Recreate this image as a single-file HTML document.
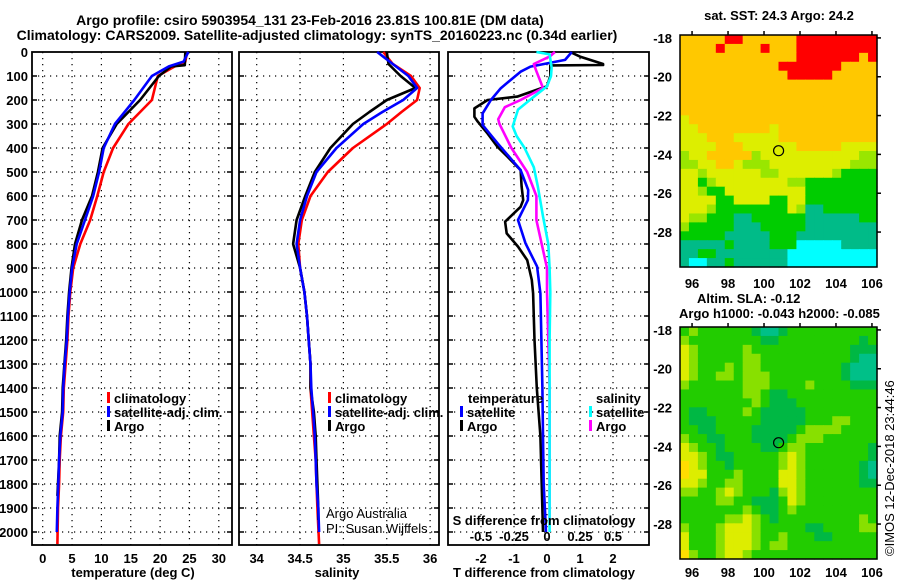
<!DOCTYPE html>
<html><head><meta charset="utf-8">
<style>
html,body{margin:0;padding:0;background:#fff;}
svg{display:block;font-family:"Liberation Sans",sans-serif;}
.t{font-weight:bold;font-size:13px;fill:#000;}
.tt{font-weight:bold;font-size:14px;fill:#000;}
.s{font-size:13px;fill:#000;}
</style></head>
<body>
<svg id="c" width="900" height="580" viewBox="0 0 900 580"></svg>
<script>
// ---- data ----
const depthGrid=[0,100,200,300,400,500,600,700,800,900,1000,1100,1200,1300,1400,1500,1600,1700,1800,1900,2000];
const tTicks=[0,5,10,15,20,25,30];
const sTicks=[34,34.5,35,35.5,36];
const dTTicks=[-2,-1,0,1,2];
const dSTicks=[-0.5,-0.25,0,0.25,0.5];
const sTickLabels=["-0.5","-0.25","0","0.25","0.5"];
// temperature profiles [depth, value]
const tempClimD=[0,40,60,100,200,300,400,500,600,700,800,900,1000,1100,1200,1300,1400,1500,1600,1700,1800,1900,2050];
const tempClimV=[24.6,24.3,22.5,19.6,18.6,14.6,12.0,10.4,9.3,8.1,6.4,5.2,4.7,4.4,4.2,3.9,3.6,3.5,3.1,2.9,2.8,2.6,2.5];
const tempSatD=[0,40,60,100,200,300,400,500,600,700,800,900,1000,1100,1200,1300,1400,1500,1600,1700,1800,1900,2000];
const tempSatV=[24.8,24.0,21.5,18.6,15.6,12.3,10.4,9.6,8.6,7.2,5.8,5.0,4.6,4.3,4.1,3.75,3.5,3.4,3.0,2.8,2.65,2.5,2.4];
const tempArgoD=[0,55,60,100,150,200,300,400,500,600,700,800,900,1000,1100,1200,1300,1400,1500,1600,1700,1800,1850];
const tempArgoV=[24.3,24.2,21.9,19.8,18.2,16.6,12.6,10.2,9.4,8.4,6.7,5.5,4.9,4.5,4.2,4.0,3.7,3.4,3.3,2.9,2.8,2.6,2.5];
// salinity profiles
const salClimD=[0,50,100,150,200,250,300,400,500,600,700,800,900,1000,1100,1200,1300,1400,1500,1600,1700,1800,1900,2050];
const salClimV=[35.46,35.57,35.78,35.88,35.85,35.67,35.5,35.11,34.82,34.62,34.52,34.48,34.5,34.55,34.58,34.6,34.62,34.62,34.64,34.66,34.68,34.69,34.7,34.72];
const salSatD=[0,50,100,150,200,250,300,400,500,600,700,800,900,1000,1100,1200,1300,1400,1500,1600,1700,1800,1900,2000];
const salSatV=[35.39,35.57,35.75,35.85,35.69,35.45,35.23,34.92,34.69,34.58,34.5,34.46,34.5,34.55,34.58,34.6,34.62,34.63,34.65,34.67,34.68,34.69,34.71,34.72];
const salArgoD=[0,50,100,150,200,250,300,400,500,600,700,800,900,1000,1100,1200,1300,1400,1500,1600,1700,1800,1900,1950];
const salArgoV=[35.5,35.52,35.66,35.83,35.5,35.3,35.11,34.85,34.67,34.56,34.46,34.42,34.5,34.55,34.58,34.6,34.62,34.62,34.66,34.68,34.69,34.7,34.71,34.71];
// difference profiles
const dTArgoD=[0,19,50,54,56,100,143,152,186,200,235,270,290,340,395,436,492,560,617,645,707,756,811,867,950,1006,1200,1400,1600,1800,2000];
const dTArgoV=[0.7,1.0,1.7,1.7,0.1,0.1,0.0,-0.2,-0.9,-1.8,-2.2,-2.2,-2.1,-1.8,-1.5,-1.2,-0.8,-0.77,-0.72,-0.8,-1.27,-1.22,-0.88,-0.6,-0.46,-0.42,-0.38,-0.31,-0.2,-0.16,-0.12];
const dTSatD=[0,33,61,82,151,200,256,304,380,492,575,617,700,797,894,1006,1200,1400,1600,1800,2000];
const dTSatV=[0.75,0.55,-0.5,-0.8,-1.4,-1.7,-1.95,-1.95,-1.5,-0.8,-0.57,-0.58,-0.88,-0.65,-0.3,-0.2,-0.17,-0.14,-0.12,-0.1,-0.03];
const dSArgoD=[0,19,50,80,150,200,230,280,300,400,500,600,700,800,900,1000,1200,1400,1600,1800,1950];
const dSArgoV=[0.06,0.02,-0.1,-0.08,-0.03,-0.2,-0.32,-0.37,-0.36,-0.27,-0.15,-0.08,-0.08,-0.04,0.0,0.0,0.01,0.02,0.02,0.02,0.02];
const dSSatD=[0,10,65,100,143,200,240,310,350,400,480,560,685,800,900,1000,1200,1400,1600,1800,2000];
const dSSatV=[-0.08,0.02,0.035,0.03,0.0,-0.13,-0.22,-0.26,-0.23,-0.17,-0.1,-0.07,-0.03,0.01,0.02,0.025,0.02,0.02,0.02,0.02,0.02];
// maps
const mapLatTicks=[-18,-20,-22,-24,-26,-28];
const mapLonTicks=[96,98,100,102,104,106];
const sstGrid=[
"OOOOORROOOOOORRRRRRRRR","OOOOROOOOROOORRRRRRRRR","OOOOOOOOOOOOORRRRRRROR","OOOOOOOOOOORRRRRRROOOO",
"OOOOOOOOOOOORRRRROOOOO","OOOOOOOOOOOOOOOOOOOOOO","OOOOOOOOOOOOOOOOOOOOOO","OOOOOOOOOOOOOOOOOOOOOO",
"OOOOOOOOOOOOOOOOOOOOOO","YOOOOOOOOOOOOOOOOOOOOO","YYOOOOOOOOYOOOOOOOOOOO","YYYOOOYYYYYOOOOOOOOOOO",
"YYYYOOOYYYYYYOOOOOYYYY","LYYOOOOOLYYYYYYYYYYYLL","LLYYOOYLLLYYYYYYYYYLLL","YYLYYYYYYLLYYYYYYLGGGG",
"YYGLYYYYYYYYLLGGGGGGGG","YYLGGYYYYYYYYYGGGGGGGG","YYYYGGYYYYGGYYGGGGGGGG","YYYLGGGGGGGGYLTTGGGGGG",
"YLLGGGTTGGGGGGTTTTTTGG","LGGGGGTTTGGGGGTTTTTTTT","GGGGGTTTTTGGGTTTTTTTTT","TTTTTGTTTTGGGCCCCCTTTT",
"TTGGTTTTTTTTCCCCCCCCCC","TCCTTGTTTTTTCCCCCCCCCC"];
const slaGrid=[
"GLGGGGGGDEEDGGGGGGGGGG","LGGGGGGGGDDGGGGGGGGGDG","YLGGGGGLGGGGGGGGGGGDDD","YLGGGGGLLGGGGGGGGGGDEE",
"YLGGGLGLLGGGGGGGGGDEEE","YLGGLLGLLLGGGGGGGGDEEE","LGGGGGGLLLGGGGLGGGGDDD","GGGGGGGLLGDDGGGGGGGGGG",
"GGGGGGGGLGDDDGGGGGGGGG","GDDGGGGLGDDDDDGGGGGGGG","GDDDGGGGGDDDDDGGGLLGGG","GGDDGGGGDDDDDGLLLLGGGG",
"LGGDDGGGDDDDGLLLGGGGGG","YLGGDGGGGDDGLLGGGGGGGD","YYLGDDGGGGGLYLGGGGGGGD","OYLGGDGGGGGLYLGGGGGGDE",
"OYYGGGLGGGGYYLGGGGGGDE","YYLGGLLGGGGYYLGGGGGGDD","LLGGLYLGGGDLYLGGGGGGGG","GGGGLLGGDDDGYLGGGGGGGG",
"GGGGGGGLGDDGLGGGGGGGGG","GGGGGLLYLGDGGGGGGGGGLG","LGGGLYYYLGGGGGDDGGGGLL","YGGGLYYYLGGLGGGDDGGGGG",
"YGGGLYYYLGLLGGGGGGGGGG","OLGGLYYLGGGGGGGGGGGGGG"];
const argoLon=100.81, argoLat=-23.81;

// ---- scales ----
const NS="http://www.w3.org/2000/svg";
const svg=document.getElementById('c');
const yD=d=>52+d*0.24;
const xT=t=>42.7+t*5.87;
const xS=s=>256.7+(s-34)*86.7;
const xdT=v=>547+v*33;
const xdS=v=>547+v*132;
const TOP=52,BOT=545;
function el(tag,attrs,parent){const e=document.createElementNS(NS,tag);for(const k in attrs)e.setAttribute(k,attrs[k]);(parent||svg).appendChild(e);return e;}
function txt(x,y,s,cls,anchor,name){const e=el('text',{x:x,y:y,class:cls,'text-anchor':anchor||'start'});e.textContent=s;


return e;}

function panel(x0,x1,xs,name){
  const g=el('g',{});
  
  
  depthGrid.forEach(d=>{if(d>0){const l=el('line',{x1:x0,x2:x1,y1:yD(d),y2:yD(d),stroke:'#000','stroke-width':1.2,'stroke-dasharray':'1.2,4.8'},g);
    
    
    el('line',{x1:x0,x2:x0+5,y1:yD(d),y2:yD(d),stroke:'#000','stroke-width':1.5},g);
    el('line',{x1:x1-5,x2:x1,y1:yD(d),y2:yD(d),stroke:'#000','stroke-width':1.5},g);}});
  xs.forEach(x=>{const l=el('line',{x1:x,x2:x,y1:TOP,y2:BOT,stroke:'#000','stroke-width':1.2,'stroke-dasharray':'1.2,4.8'},g);
    
    });
  const r=el('rect',{x:x0,y:TOP,width:x1-x0,height:BOT-TOP,fill:'none',stroke:'#000','stroke-width':1.8},g);
  
  
  return g;
}
function line(D,V,xf,color,name,w){
  const pts=D.map((d,i)=>xf(V[i]).toFixed(1)+','+yD(d).toFixed(1)).join(' ');
  const p=el('polyline',{points:pts,fill:'none',stroke:color,'stroke-width':w||2.6,'stroke-linejoin':'round'});
  
  
}
function legendBar(x,y,color,name){const r=el('rect',{x:x,y:y-10,width:3,height:11,fill:color});
  
  }

// titles
txt(310,25,'Argo profile: csiro 5903954_131 23-Feb-2016 23.81S 100.81E (DM data)','tt','middle','title-line-1');
txt(317,40,'Climatology: CARS2009. Satellite-adjusted climatology: synTS_20160223.nc (0.34d earlier)','tt','middle','title-line-2');

// depth labels
depthGrid.forEach(d=>txt(28,yD(d)+5,String(d),'t','end','depth-tick-label'));

// panel 1 temperature
panel(32,232,tTicks.map(xT),'temperature-panel');
line(tempClimD,tempClimV,xT,'#ff0000','temp-climatology-line');
line(tempArgoD,tempArgoV,xT,'#000000','temp-argo-line');
line(tempSatD,tempSatV,xT,'#0000ff','temp-satellite-line');
tTicks.forEach(t=>txt(xT(t),563,String(t),'t','middle','temp-tick-label'));
txt(133,577,'temperature (deg C)','t','middle','temp-axis-title');
legendBar(107,402,'#ff0000','legend-climatology-swatch');txt(114,403,'climatology','t','start','legend-climatology');
legendBar(107,416,'#0000ff','legend-satellite-swatch');txt(114,417,'satellite-adj. clim.','t','start','legend-satellite');
legendBar(107,430,'#000000','legend-argo-swatch');txt(114,431,'Argo','t','start','legend-argo');

// panel 2 salinity
panel(239,439,sTicks.map(xS),'salinity-panel');
line(salClimD,salClimV,xS,'#ff0000','sal-climatology-line');
line(salArgoD,salArgoV,xS,'#000000','sal-argo-line');
line(salSatD,salSatV,xS,'#0000ff','sal-satellite-line');
sTicks.forEach(s=>txt(xS(s),563,String(s),'t','middle','sal-tick-label'));
txt(337,577,'salinity','t','middle','sal-axis-title');
legendBar(328,402,'#ff0000','legend2-climatology-swatch');txt(335,403,'climatology','t','start','legend2-climatology');
legendBar(328,416,'#0000ff','legend2-satellite-swatch');txt(335,417,'satellite-adj. clim.','t','start','legend2-satellite');
legendBar(328,430,'#000000','legend2-argo-swatch');txt(335,431,'Argo','t','start','legend2-argo');
txt(326,518,'Argo Australia','s','start','credit-argo-australia');
txt(326,533,'PI: Susan Wijffels','s','start','credit-pi');

// panel 3 differences
panel(448,649,dTTicks.map(xdT),'difference-panel');
line(dTArgoD,dTArgoV,xdT,'#000000','dT-argo-line');
line(dTSatD,dTSatV,xdT,'#0000ff','dT-satellite-line');
line(dSArgoD,dSArgoV,xdS,'#ff00ff','dS-argo-line');
line(dSSatD,dSSatV,xdS,'#00ffff','dS-satellite-line');
dTTicks.forEach(v=>txt(xdT(v),563,String(v),'t','middle','dT-tick-label'));
dSTicks.forEach((v,i)=>txt(xdS(v),541,sTickLabels[i],'t','middle','dS-tick-label'));
txt(544,525,'S difference from climatology','t','middle','dS-axis-title');
txt(544,577,'T difference from climatology','t','middle','dT-axis-title');
txt(468,403,'temperature','t','start','legend3-temperature-heading');
legendBar(460,416,'#0000ff','legend3-t-satellite-swatch');txt(467,417,'satellite','t','start','legend3-t-satellite');
legendBar(460,430,'#000000','legend3-t-argo-swatch');txt(467,431,'Argo','t','start','legend3-t-argo');
txt(596,403,'salinity','t','start','legend3-salinity-heading');
legendBar(589,416,'#00ffff','legend3-s-satellite-swatch');txt(596,417,'satellite','t','start','legend3-s-satellite');
legendBar(589,430,'#ff00ff','legend3-s-argo-swatch');txt(596,431,'Argo','t','start','legend3-s-argo');

// maps
const colorsSST={O:'#ffc800',R:'#ff0000',Y:'#ddee00',L:'#99e600',G:'#00cc00',T:'#00bb88',C:'#00ffff',B:'#0000ff'};
const colorsSLA={O:'#ffdd00',Y:'#dded00',L:'#88e000',G:'#22cc00',D:'#00b844',E:'#00c088'};
function drawMap(grid,colors,x0,y0,name,latTop,tickColLabelsY){
  const W=197,H=232,lonMin=95.33,lonMax=106.28,latMax=-17.85,latMin=-29.8;
  const lx=l=>x0+(l-lonMin)/(lonMax-lonMin)*W;
  const ly=l=>y0+(latMax-l)/(latMax-latMin)*H;
  const g=el('g',{});
  
  
  const rows=grid.length,cols=grid[0].length,cw=W/cols,ch=H/rows;
  grid.forEach((row,r)=>{[...row].forEach((k,c)=>{
    el('rect',{x:(x0+c*cw).toFixed(2),y:(y0+r*ch).toFixed(2),width:(cw+0.6).toFixed(2),height:(ch+0.6).toFixed(2),fill:colors[k]},g);});});
  const fr=el('rect',{x:x0,y:y0,width:W,height:H,fill:'none',stroke:'#000','stroke-width':1.5},g);
  
  
  mapLatTicks.forEach(l=>{txt(x0-8,ly(l)+5,String(l),'t','end',name+'-lat-label');
    el('line',{x1:x0+W,x2:x0+W+4,y1:ly(l),y2:ly(l),stroke:'#000','stroke-width':1.5},g);});
  mapLonTicks.forEach(l=>{txt(lx(l),tickColLabelsY,String(l),'t','middle',name+'-lon-label');
    el('line',{x1:lx(l),x2:lx(l),y1:y0-4,y2:y0,stroke:'#000','stroke-width':1.5},g);});
  const m=el('circle',{cx:lx(argoLon),cy:ly(argoLat),r:5,fill:'none',stroke:'#000','stroke-width':1.2},g);
  
  
}
drawMap(sstGrid,colorsSST,680,35,'sst-map',-17.85,288);
drawMap(slaGrid,colorsSLA,680,327,'sla-map',-17.85,577);
txt(779,20,'sat. SST: 24.3 Argo: 24.2','t','middle','sst-map-title');
txt(697,303,'Altim. SLA: -0.12','t','start','sla-map-title');
txt(679,318,'Argo h1000: -0.043 h2000: -0.085','t','start','sla-map-subtitle');
const cr=txt(0,0,'©IMOS 12-Dec-2018 23:44:46','s','start','timestamp-credit');
cr.setAttribute('transform','translate(894,556) rotate(-90)');
</script>
</body></html>
